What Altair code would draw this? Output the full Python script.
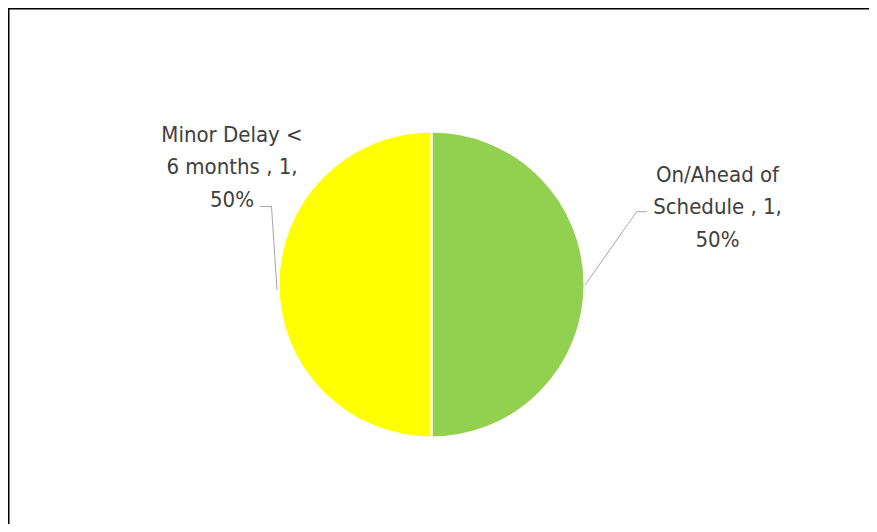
import textwrap
import altair as alt
import pandas as pd

# ---- data ----
categories = ["On/Ahead of Schedule", "Minor Delay < 6 months"]
values = [1, 1]
colors = ["#92D050", "#FFFF00"]

total = sum(values)
pcts = [round(v / total * 100) for v in values]
labels = [
    "\n".join(textwrap.wrap(f"{c} , {v}, {p}%", 13))
    for c, v, p in zip(categories, values, pcts)
]

df = pd.DataFrame({
    "category": categories,
    "value": values,
    "order": list(range(len(categories))),
    "label": labels,
})

W, H = 861, 516
CX, CY, R = 423.5, 276.5, 153
FONT = "DejaVu Sans Condensed, Liberation Sans, sans-serif"
TXT = "#404040"
LEADER = "#A6A6A6"

base = alt.Chart(df)

pie = base.mark_arc(outerRadius=R, stroke="white", strokeWidth=2).encode(
    theta=alt.Theta("value:Q", stack=True),
    order=alt.Order("order:Q"),
    color=alt.Color("category:N",
                    scale=alt.Scale(domain=categories, range=colors),
                    legend=None),
    x=alt.value(CX),
    y=alt.value(CY),
)

text_props = dict(font=FONT, fontSize=22, color=TXT, align="center",
                  baseline="alphabetic", lineBreak="\n", lineHeight=32.5)

label_right = base.transform_filter(
    alt.datum.category == categories[0]
).mark_text(**text_props).encode(
    text="label:N", x=alt.value(709.5), y=alt.value(173.5)
)

label_left = base.transform_filter(
    alt.datum.category == categories[1]
).mark_text(**text_props).encode(
    text="label:N", x=alt.value(224), y=alt.value(133.5)
)

one = alt.Data(values=[{"k": 1}])

def seg(x1, y1, x2, y2, color=LEADER, sw=1):
    return alt.Chart(one).mark_rule(color=color, strokeWidth=sw).encode(
        x=alt.value(x1), y=alt.value(y1), x2=alt.value(x2), y2=alt.value(y2)
    )

leaders = [
    seg(252, 198.5, 263.5, 198.5),
    seg(263.5, 198.5, 269, 282),
    seg(628.7, 203.7, 638.7, 203.7),
    seg(628.7, 203.7, 577, 277),
]

border = [
    seg(0, 0.75, W, 0.75, color="#000000", sw=1.5),
    seg(0.75, 0, 0.75, H, color="#000000", sw=1.5),
]

chart = alt.layer(
    pie, label_right, label_left, *leaders, *border
).properties(
    width=W, height=H, padding=0,
    autosize=alt.AutoSizeParams(type="none"),
    background="white",
).configure_view(stroke=None)

chart.save("out.html", embed_options={"renderer": "svg", "actions": False})
